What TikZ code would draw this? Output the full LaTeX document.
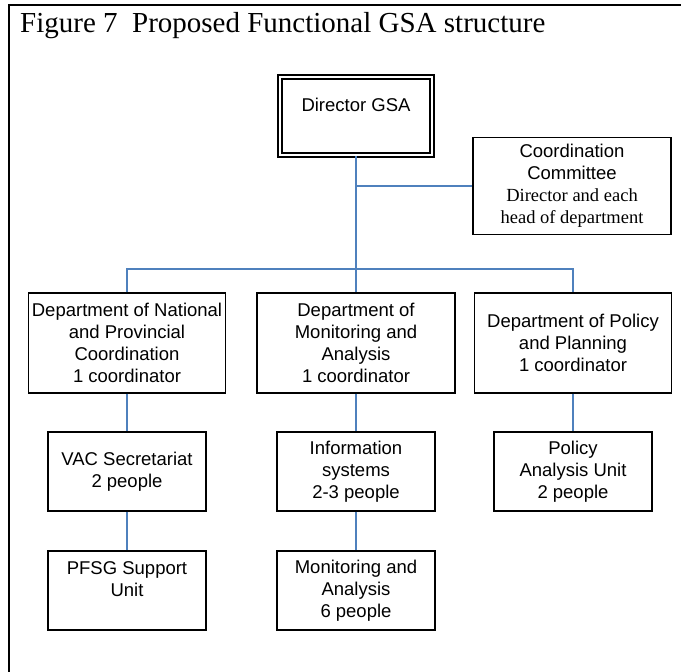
\documentclass[tikz,border=0pt]{standalone}
\usepackage{fontspec}
\setmainfont{Liberation Serif}
\setsansfont{Liberation Sans}
\begin{document}
\begin{tikzpicture}[x=1pt,y=-1pt,
  box/.style={draw=black, line width=1.3pt, inner sep=0pt, align=center,
    font=\sffamily\fontsize{18.5}{22}\selectfont},
  link/.style={draw={rgb,255:red,79;green,129;blue,189}, line width=1.4pt},
  frameline/.style={line width=2.4pt, line cap=rect}]
  % page extent
  \useasboundingbox (0,0) rectangle (681,672);
  \fill[white] (0,0) rectangle (681,672);

  % frame around the figure (top and left)
  \draw[frameline] (681,5) -- (9,5) -- (9,672);

  % caption
  \node[anchor=base west, inner sep=0pt, font=\fontsize{29}{33}\selectfont]
    (title) at (20,32) {Figure 7\ \ Proposed Functional GSA structure};

  % director, drawn with a double border
  \node[box, double, double distance=2.4pt, line width=1.6pt,
        minimum width=152pt, minimum height=78pt]
    (dir) at (356,116) {Director GSA\\~};

  \node[box, minimum width=198pt, minimum height=97pt]
    (com) at (572,186)
    {Coordination\\Committee\\{\rmfamily Director and each}\\{\rmfamily head of department}};

  % departments
  \node[box, minimum width=197pt, minimum height=100pt] (d1) at (127,343)
    {Department of National\\and Provincial\\Coordination\\1 coordinator};
  \node[box, minimum width=198pt, minimum height=100pt] (d2) at (356,343)
    {Department of\\Monitoring and\\Analysis\\1 coordinator};
  \node[box, minimum width=197pt, minimum height=100pt] (d3) at (573,343)
    {Department of Policy\\and Planning\\1 coordinator};

  % units
  \node[box, minimum width=158pt, minimum height=79pt] (vac) at (127,471.5)
    {VAC Secretariat\\2 people};
  \node[box, minimum width=158pt, minimum height=79pt] (info) at (356,471.5)
    {Information\\systems\\2-3 people};
  \node[box, minimum width=158pt, minimum height=79pt] (pol) at (573,471.5)
    {Policy\\Analysis Unit\\2 people};
  \node[box, minimum width=158pt, minimum height=79pt] (pfsg) at (127,590.5)
    {PFSG Support\\Unit\\~};
  \node[box, minimum width=158pt, minimum height=79pt] (mon) at (356,590.5)
    {Monitoring and\\Analysis\\6 people};

  % connectors
  \coordinate (bar) at (356,269);
  \draw[link] (dir.south) -- (d2.north);
  \draw[link] (dir.south |- com.west) -- (com.west);
  \draw[link] (d1.north) |- (bar) -| (d3.north);
  \draw[link] (d1.south) -- (vac.north);
  \draw[link] (d2.south) -- (info.north);
  \draw[link] (d3.south) -- (pol.north);
  \draw[link] (vac.south) -- (pfsg.north);
  \draw[link] (info.south) -- (mon.north);
\end{tikzpicture}
\end{document}
